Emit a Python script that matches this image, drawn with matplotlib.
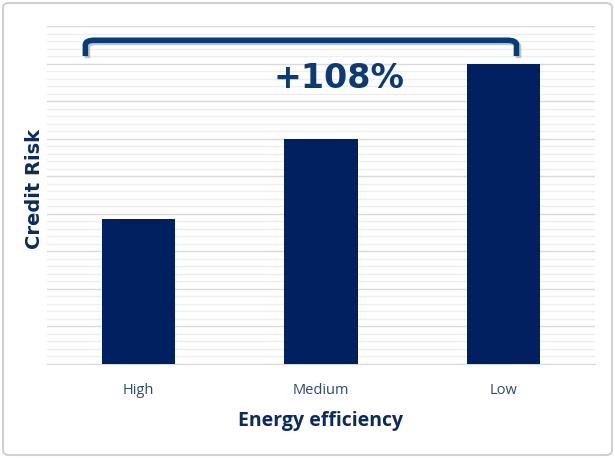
import numpy as np
import matplotlib.pyplot as plt
from matplotlib.patches import FancyBboxPatch
from matplotlib.path import Path
from matplotlib.patches import PathPatch
import matplotlib.patheffects as pe

# Data
categories = ['High', 'Medium', 'Low']
credit_risk = [3.85, 6.0, 8.0]
change_label = '+108%'

navy = '#002060'
text_blue = '#0b3a74'

fig = plt.figure(figsize=(6.15, 4.58), dpi=100)
ax = fig.add_axes([47/615, 94/458, 548/615, 338/458])

x = np.arange(len(categories))
ax.bar(x, credit_risk, width=0.4, color=navy, zorder=3)

ax.set_xlim(-0.5, 2.5)
ax.set_ylim(0, 9)

# gridlines: major + minor
ax.set_yticks(np.arange(0, 9.01, 1))
ax.set_yticks(np.arange(0, 9.01, 0.2), minor=True)
ax.grid(axis='y', which='major', color='#d9d9d9', lw=1, zorder=0)
ax.grid(axis='y', which='minor', color='#eeeeee', lw=1, zorder=0)
ax.tick_params(axis='y', which='both', left=False, labelleft=False)
ax.tick_params(axis='x', length=0, pad=14, labelsize=10.5, labelcolor='#2f4775')
ax.set_xticks(x)
ax.set_xticklabels(categories, family='Open Sans')
for s in ['top', 'right', 'left']:
    ax.spines[s].set_visible(False)
ax.spines['bottom'].set_color('#d9d9d9')

ax.set_xlabel('Energy efficiency', fontsize=14, fontweight='bold', family='Open Sans',
              color='#0b2a5e', labelpad=9)
# y label placed directly in figure coords
fig.text(35/615, 1 - 189/458, 'Credit Risk', rotation=90, fontsize=14, fontweight='bold',
         family='DejaVu Sans', color='#0b2a5e', ha='center', va='center')

# bracket over the bars
x0, x1 = -0.29, 2.07
yb, yt = 8.2, 8.62
r = 0.05
verts = [(x0, yb), (x0, yt - 0.12), (x0, yt), (x0 + r, yt),
         (x1 - r, yt), (x1, yt), (x1, yt - 0.12), (x1, yb)]
codes = [Path.MOVETO, Path.LINETO, Path.CURVE3, Path.CURVE3,
         Path.LINETO, Path.CURVE3, Path.CURVE3, Path.LINETO]
bracket = PathPatch(Path(verts, codes), fill=False, edgecolor='#043c7b', lw=4,
                    capstyle='butt', zorder=5,
                    path_effects=[pe.SimpleLineShadow(offset=(1.5, -1.5), shadow_color='#888888', alpha=0.5),
                                  pe.Normal()])
ax.add_patch(bracket)

ax.text(1.1, (364 - 79) / 338 * 9, change_label, fontsize=24, fontweight='bold', family='DejaVu Sans',
        color=text_blue, ha='center', va='center', zorder=6)

# rounded border around figure
border = FancyBboxPatch((3/615, 3/458), 609/615, 452/458, boxstyle='round,pad=0,rounding_size=0.01',
                        transform=fig.transFigure, fill=False, edgecolor='#d0d0d0', lw=1.5)
fig.patches.append(border)

fig.savefig('out.png', dpi=100)
